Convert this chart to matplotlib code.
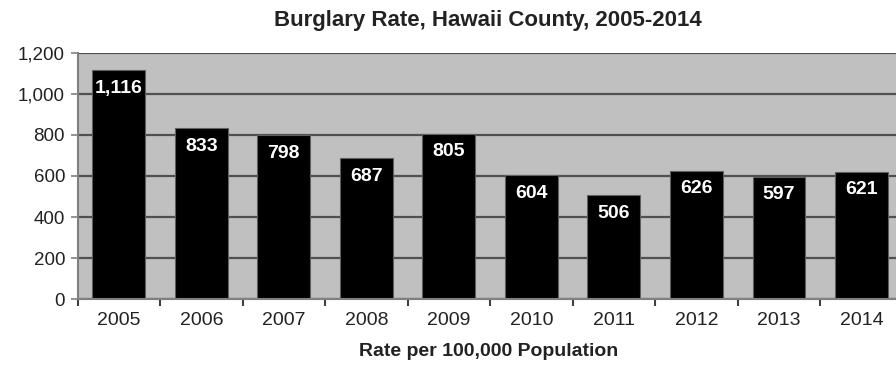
import numpy as np
import matplotlib.pyplot as plt

# Burglary rate per 100,000 population, Hawaii County
years = ['2005', '2006', '2007', '2008', '2009', '2010', '2011', '2012', '2013', '2014']
rates = [1116, 833, 798, 687, 805, 604, 506, 626, 597, 621]
rate_labels = ['1,116', '833', '798', '687', '805', '604', '506', '626', '597', '621']

plt.rcParams['font.family'] = ['Liberation Sans', 'DejaVu Sans']

fig = plt.figure(figsize=(8.96, 3.67), dpi=100)
# plot area runs off the right edge like in the original
ax = fig.add_axes([0.0865, 0.185, 0.921, 0.671])
ax.set_facecolor('#c0c0c0')

x = np.arange(len(years))
ax.set_axisbelow(True)
ax.yaxis.grid(True, color='#505050', linewidth=1.6)
bars = ax.bar(x, rates, width=0.64, color='black', edgecolor='#606060', linewidth=0.8)

for xi, r, lab in zip(x, rates, rate_labels):
    ax.annotate(lab, (xi, r), xytext=(0, -13), textcoords='offset points',
                ha='center', va='center', color='white', fontsize=14, fontweight='bold')

ax.set_xlim(-0.5, len(years) - 0.5)
ax.set_ylim(0, 1200)
ax.set_yticks(range(0, 1201, 200))
ax.set_yticklabels([f'{v:,}' for v in range(0, 1201, 200)], fontsize=13.5, color='#222222')
ax.set_xticks(x)
ax.set_xticklabels(years, fontsize=14, color='#222222')
ax.set_xticks(np.arange(-0.5, len(years), 1), minor=True)
ax.tick_params(axis='x', which='major', length=0, pad=9)
ax.tick_params(axis='x', which='minor', length=5, width=1.5, color='#404040', direction='out')
ax.tick_params(axis='y', length=5, width=1.2, color='#808080', pad=4)

for s in ['top', 'right']:
    ax.spines[s].set_visible(False)
ax.spines['left'].set_color('#808080')
ax.spines['left'].set_linewidth(1.5)
ax.spines['bottom'].set_color('#808080')
ax.spines['bottom'].set_linewidth(1.5)

fig.text(0.545, 0.945, 'Burglary Rate, Hawaii County, 2005-2014', ha='center', va='center',
         fontsize=16, fontweight='bold', color='#222222')
fig.text(0.545, 0.041, 'Rate per 100,000 Population', ha='center', va='center',
         fontsize=14, fontweight='bold', color='#222222')

fig.savefig('out.png', dpi=100)
